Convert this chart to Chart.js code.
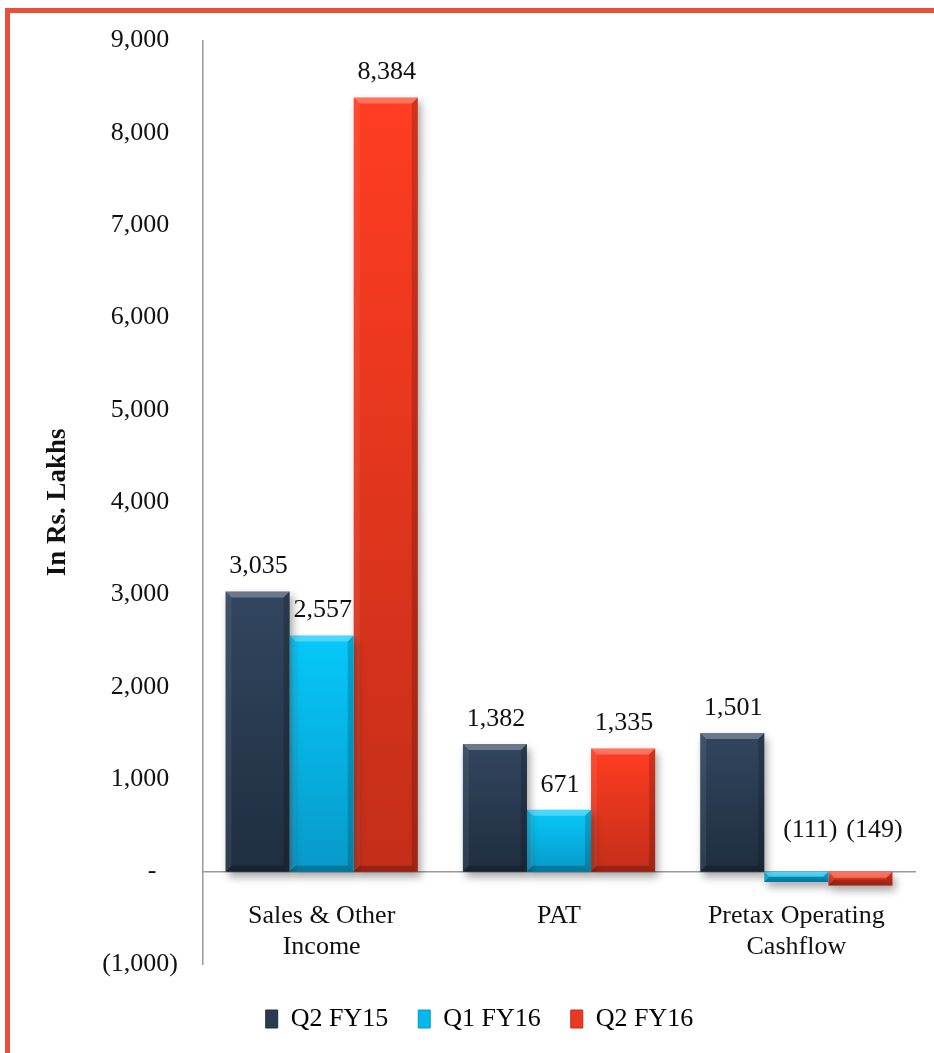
<!DOCTYPE html>
<html>
<head>
<meta charset="utf-8">
<script src="https://cdn.jsdelivr.net/npm/chart.js@4.4.1/dist/chart.umd.min.js"></script>
<style>
  html, body { margin: 0; padding: 0; background: #fff; }
  #wrap { position: relative; width: 934px; height: 1053px; }
  #frame {
    position: absolute; left: 5px; top: 8px; right: 0; bottom: 0;
    border-top: 5px solid #e8503c; border-left: 5px solid #e8503c;
    pointer-events: none;
  }
</style>
</head>
<body>
<div id="wrap">
  <canvas id="resultChart"></canvas>
  <div id="frame"></div>
</div>
<script>
const categories = [['Sales & Other', 'Income'], 'PAT', ['Pretax Operating', 'Cashflow']];
const seriesNames = ['Q2 FY15', 'Q1 FY16', 'Q2 FY16'];
const q2fy15 = [3035, 1382, 1501];
const q1fy16 = [2557, 671, -111];
const q2fy16 = [8384, 1335, -149];
const yTicks = [-1000, 0, 1000, 2000, 3000, 4000, 5000, 6000, 7000, 8000, 9000];

// top / bottom colour of each series
const palette = [
  { base: '#2a3b51', top: '#32465f', bottom: '#1f2e40' },
  { base: '#05b8ea', top: '#06c9fb', bottom: '#0799c8' },
  { base: '#ec3820', top: '#ff3d22', bottom: '#c42e19' },
];

const fmt = v => Math.abs(v).toLocaleString('en-US');
const fmtLabel = v => v < 0 ? '(' + fmt(v) + ')' : fmt(v);

function barFill(i) {
  return function (c) {
    const chart = c.chart;
    const p = palette[i];
    if (c.type !== 'data' || !chart.chartArea || !chart.scales.y) return p.base;
    const y = chart.scales.y;
    const top = y.getPixelForValue(Math.max(c.raw, 0));
    const bot = y.getPixelForValue(Math.min(c.raw, 0));
    if (!isFinite(top) || !isFinite(bot) || top === bot) return p.base;
    const g = chart.ctx.createLinearGradient(0, top, 0, bot);
    g.addColorStop(0, p.top);
    g.addColorStop(1, p.bottom);
    return g;
  };
}

Chart.defaults.font.family = '"Liberation Serif", "Times New Roman", serif';
Chart.defaults.font.size = 26;
Chart.defaults.color = '#111';

// nudge the legend to where the original sits
const legendShift = {
  id: 'legendShift',
  afterLayout(chart) {
    const lg = chart.legend;
    if (!lg) return;
    lg.left += 22; lg.right += 22;
    lg.top += 12; lg.bottom += 12;
  }
};

const barLook = {
  id: 'barLook',
  beforeDatasetsDraw(chart) {
    const ctx = chart.ctx;
    ctx.save();
    ctx.shadowColor = 'rgba(0,0,0,0.35)';
    ctx.shadowBlur = 8;
    ctx.shadowOffsetX = 3;
    ctx.shadowOffsetY = 5;
  },
  afterDatasetsDraw(chart) {
    const ctx = chart.ctx;
    ctx.restore();
    ctx.save();
    chart.data.datasets.forEach((ds, di) => {
      const meta = chart.getDatasetMeta(di);
      meta.data.forEach((bar, i) => {
        const l = bar.x - bar.width / 2, r = bar.x + bar.width / 2;
        const t = Math.min(bar.y, bar.base), b = Math.max(bar.y, bar.base);
        const e = Math.min(6, (b - t) / 2);
        const poly = (pts, col) => {
          ctx.beginPath();
          ctx.moveTo(pts[0][0], pts[0][1]);
          pts.slice(1).forEach(p => ctx.lineTo(p[0], p[1]));
          ctx.closePath();
          ctx.fillStyle = col;
          ctx.fill();
        };
        poly([[l, t], [r, t], [r - e, t + e], [l + e, t + e]], 'rgba(255,255,255,0.28)');
        poly([[l, t], [l + e, t + e], [l + e, b - e], [l, b]], 'rgba(255,255,255,0.07)');
        poly([[r, t], [r - e, t + e], [r - e, b - e], [r, b]], 'rgba(0,0,0,0.18)');
        poly([[l, b], [l + e, b - e], [r - e, b - e], [r, b]], 'rgba(0,0,0,0.22)');

        // value label
        const v = ds.data[i];
        ctx.font = '26px "Liberation Serif", serif';
        ctx.fillStyle = '#111';
        ctx.textAlign = 'center';
        ctx.textBaseline = 'middle';
        if (v >= 0) {
          ctx.fillText(fmtLabel(v), bar.x + 1, bar.y - 25);
        } else {
          ctx.fillText(fmtLabel(v), bar.x + 14, bar.base - 41);
        }
      });
    });
    ctx.restore();
  }
};

new Chart(document.getElementById('resultChart'), {
  type: 'bar',
  data: {
    labels: categories,
    datasets: [
      { label: seriesNames[0], data: q2fy15, backgroundColor: barFill(0) },
      { label: seriesNames[1], data: q1fy16, backgroundColor: barFill(1) },
      { label: seriesNames[2], data: q2fy16, backgroundColor: barFill(2) },
    ],
  },
  options: {
    responsive: true,
    maintainAspectRatio: false,
    animation: false,
    datasets: { bar: { barPercentage: 1, categoryPercentage: 0.81 } },
    layout: { padding: { top: 40, right: 19, bottom: 23, left: 0 } },
    plugins: {
      legend: {
        position: 'bottom',
        labels: {
          boxWidth: 12,
          boxHeight: 18,
          padding: 30,
          color: '#111',
          font: { size: 26 },
          generateLabels(chart) {
            return chart.data.datasets.map((ds, i) => ({
              text: ds.label,
              fillStyle: palette[i].base,
              strokeStyle: palette[i].bottom,
              lineWidth: 1,
              datasetIndex: i,
            }));
          },
        },
      },
      tooltip: { enabled: false },
    },
    scales: {
      x: {
        position: { y: 0 },
        grid: { display: false },
        border: { display: true, color: '#999', width: 1.5 },
        ticks: { padding: 21, color: '#111', maxRotation: 0, autoSkip: false },
      },
      y: {
        min: -1000,
        max: 9000,
        afterFit(scale) { scale.width = 203; },
        afterBuildTicks(scale) { scale.ticks = yTicks.map(v => ({ value: v })); },
        grid: { display: false, drawTicks: false },
        border: { display: true, color: '#999', width: 1.5 },
        ticks: {
          padding: 25,
          color: '#111',
          callback(v) {
            if (v === 0) return '-\u2002\u2004';
            if (v < 0) return '(' + fmt(v) + ')';
            return fmt(v) + '\u2004';
          },
        },
        title: {
          display: true,
          text: 'In Rs. Lakhs',
          color: '#111',
          font: { size: 27, weight: 'bold' },
          padding: { top: 42, bottom: 0 },
        },
      },
    },
  },
  plugins: [legendShift, barLook],
});
</script>
</body>
</html>
